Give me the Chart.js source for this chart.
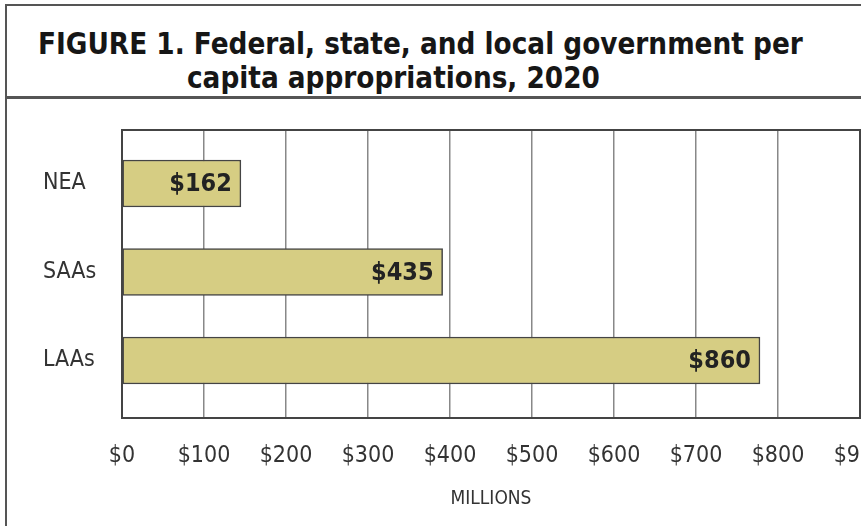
<!DOCTYPE html>
<html>
<head>
<meta charset="utf-8">
<script src="https://cdn.jsdelivr.net/npm/chart.js@4/dist/chart.umd.min.js"></script>
<style>
    html, body { margin: 0; padding: 0; background: #fff; width: 861px; height: 526px; overflow: hidden; }
    .frame-top { position: absolute; left: 5px; top: 4px; width: 860px; height: 2px; background: #555; }
    .frame-left { position: absolute; left: 5px; top: 4px; width: 2px; height: 530px; background: #555; }
    .divider { position: absolute; left: 5px; top: 96px; width: 860px; height: 3px; background: #555; }
    .title {
        position: absolute;
        font-family: "Liberation Sans Narrow", "DejaVu Sans Condensed", "Open Sans", sans-serif;
        font-weight: bold;
        font-size: 31px;
        color: #161616;
        white-space: nowrap;
        line-height: 34px;
        transform: scaleX(0.945);
        transform-origin: left center;
    }
    #chart-wrap { position: absolute; left: 0; top: 100px; width: 900px; height: 426px; }
</style>
</head>
<body>
<div class="frame-top"></div>
<div class="frame-left"></div>
<div class="title" style="left:38px; top:26px;">FIGURE 1. Federal, state, and local government per</div>
<div class="title" style="left:187px; top:60px;">capita appropriations, 2020</div>
<div class="divider"></div>
<div id="chart-wrap"><canvas id="approp-canvas"></canvas></div>

<script>
const categories = ['NEA', 'SAAs', 'LAAs'];
// bar lengths as drawn in the figure (millions)
const barValues = [145, 391, 778];
// printed labels on the bars
const valueLabels = ['$162', '$435', '$860'];
const xTicks = [0, 100, 200, 300, 400, 500, 600, 700, 800, 900];

const condensed = '"Liberation Sans Narrow", "DejaVu Sans Condensed", "Open Sans", sans-serif';

/**
 * outline round the plot area
 */
const plotFrame = {
    id: 'plotFrame',
    afterDraw(chart) {
        const {ctx, chartArea} = chart;
        ctx.save();
        ctx.strokeStyle = '#444';
        ctx.lineWidth = 2;
        ctx.strokeRect(chartArea.left, chartArea.top, chartArea.right - chartArea.left, chartArea.bottom - chartArea.top);
        ctx.restore();
    }
};

const barLabels = {
    id: 'barLabels',
    afterDatasetsDraw(chart) {
        const {ctx} = chart;
        const meta = chart.getDatasetMeta(0);
        ctx.save();
        ctx.font = 'bold 25px ' + condensed;
        ctx.fillStyle = '#222';
        ctx.textAlign = 'right';
        ctx.textBaseline = 'middle';
        meta.data.forEach((bar, i) => {
            ctx.fillText(valueLabels[i], bar.x - 9, bar.y + 1);
        });
        ctx.restore();
    }
};

const canvas = document.querySelector('#approp-canvas');

new Chart(canvas, {
    type: 'bar',
    data: {
        datasets: [{
            data: barValues.map((v, i) => ({x: v, y: i})),
            backgroundColor: '#d6cd83',
            borderColor: '#444',
            borderWidth: 1.5,
            borderSkipped: false,
            barThickness: 47,
        }]
    },
    options: {
        indexAxis: 'y',
        responsive: true,
        maintainAspectRatio: false,
        animation: false,
        layout: {
            padding: {top: 30, right: 40, left: 43, bottom: 16}
        },
        plugins: {
            legend: {display: false},
            tooltip: {enabled: false},
        },
        scales: {
            x: {
                type: 'linear',
                min: 0,
                max: 900,
                afterBuildTicks: axis => { axis.ticks = xTicks.map(v => ({value: v})); },
                grid: {color: '#888', lineWidth: 1.5, drawTicks: true, tickLength: 22, tickColor: 'rgba(0,0,0,0)'},
                border: {color: '#444', width: 2},
                ticks: {
                    padding: 2,
                    color: '#333',
                    font: {family: condensed, size: 23},
                    callback: v => '$' + v,
                },
                title: {
                    display: true,
                    text: 'MILLIONS',
                    color: '#333',
                    font: {family: condensed, size: 19},
                    padding: {top: 10, bottom: 0},
                },
                afterFit: scale => { scale.height = 92; },
            },
            y: {
                type: 'linear',
                reverse: true,
                offset: false,
                min: -0.605,
                max: 2.65,
                afterBuildTicks: axis => { axis.ticks = categories.map((c, i) => ({value: i})); },
                grid: {display: false, offset: false},
                border: {color: '#444', width: 2},
                ticks: {
                    crossAlign: 'far',
                    color: '#333',
                    font: {family: condensed, size: 23},
                    callback: v => categories[v],
                },
                afterFit: scale => { scale.width = 79; },
            }
        }
    },
    plugins: [plotFrame, barLabels]
});
</script>
</body>
</html>
